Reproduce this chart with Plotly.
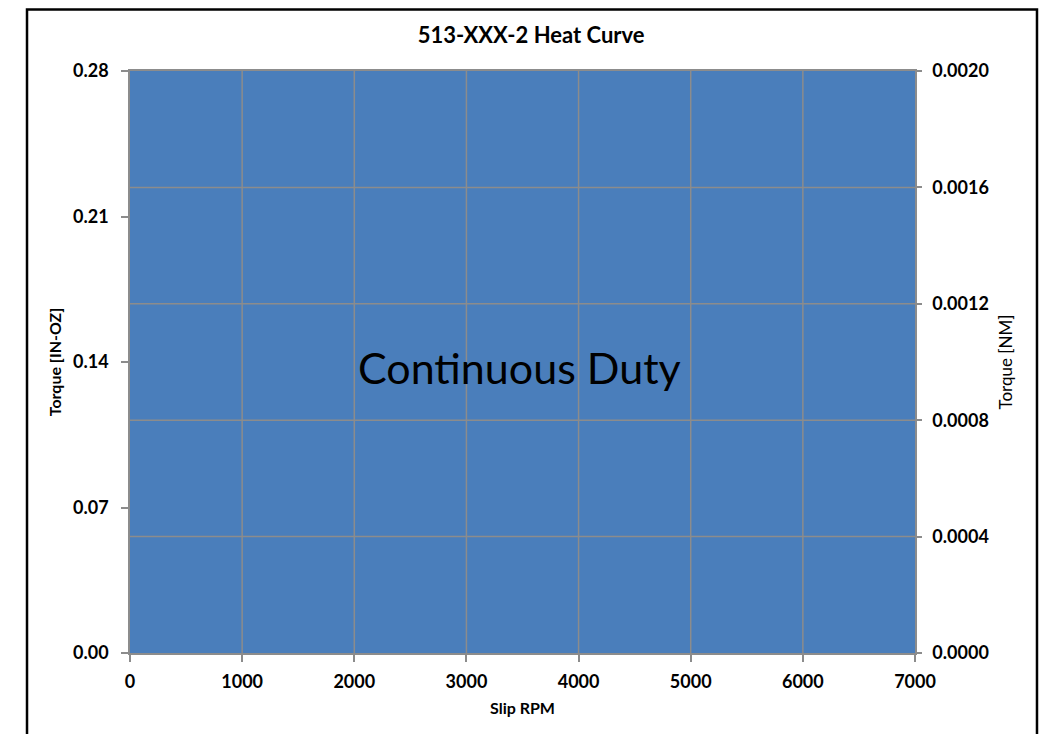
import plotly.graph_objects as go

# Data
slip_rpm = [0, 7000]
torque_in_oz = [0.28, 0.28]
x_ticks = [0, 1000, 2000, 3000, 4000, 5000, 6000, 7000]
y_ticks = [0.00, 0.07, 0.14, 0.21, 0.28]
y2_ticks = [0.0000, 0.0004, 0.0008, 0.0012, 0.0016, 0.0020]
region_label = "Continuous Duty"
region_x = 3473
region_y = 0.1375

FONT = "Lato"
GRID = "#8c8c8c"
FILL = "#4a7ebb"

fig = go.Figure()
fig.add_trace(go.Scatter(
    x=slip_rpm, y=torque_in_oz, mode="lines", fill="tozeroy",
    fillcolor=FILL, line=dict(width=0, color=FILL), showlegend=False,
    hoverinfo="skip"))
# invisible trace to activate secondary axis
fig.add_trace(go.Scatter(x=[slip_rpm[0]], y=[y2_ticks[0]], yaxis="y2",
                         mode="markers", marker=dict(opacity=0),
                         showlegend=False, hoverinfo="skip"))

# gridlines drawn above the fill
for xv in x_ticks[1:-1]:
    fig.add_shape(type="line", xref="x", yref="paper", x0=xv, x1=xv, y0=0, y1=1,
                  line=dict(color=GRID, width=1.5), layer="above")
for yv in y2_ticks[1:-1]:
    fig.add_shape(type="line", xref="paper", yref="y2", x0=0, x1=1, y0=yv, y1=yv,
                  line=dict(color=GRID, width=1.5), layer="above")

# outer chart frame
fig.add_shape(type="rect", xref="paper", yref="paper",
              x0=-0.1312, x1=1.1554, y0=-0.25, y1=1.1057,
              line=dict(color="black", width=2.5), layer="above")

fig.add_annotation(x=region_x, y=region_y, xref="x", yref="y", text=region_label,
                   showarrow=False, font=dict(family=FONT, size=43, color="black"))

tickfont = dict(family=FONT, size=18, color="black", weight="bold")
fig.update_layout(
    width=1040, height=726,
    margin=dict(l=122, r=133, t=63, b=81),
    paper_bgcolor="white", plot_bgcolor="white",
    title=dict(text="<b>513-XXX-2 Heat Curve</b>", x=0.503, xanchor="center",
               y=1 - 27 / 726, yanchor="middle", yref="container",
               font=dict(family=FONT, size=22, color="black")),
    xaxis=dict(range=[0, 7000], tickvals=x_ticks, showgrid=False, zeroline=False,
               showline=True, linecolor=GRID, linewidth=1.5, mirror=True,
               ticks="outside", ticklen=7, tickcolor=GRID, tickwidth=1.5,
               ticklabelstandoff=5, tickfont=tickfont,
               title=dict(text="<b>Slip RPM</b>", standoff=11,
                          font=dict(family=FONT, size=16, color="black"))),
    yaxis=dict(range=[0, 0.28], tickvals=y_ticks, tickformat=".2f", showgrid=False,
               zeroline=False, showline=True, linecolor=GRID, linewidth=1.5,
               ticks="outside", ticklen=7, tickcolor=GRID, tickwidth=1.5,
               ticklabelstandoff=9, tickfont=tickfont,
               title=dict(text="<b>Torque [IN-OZ]</b>", standoff=7,
                          font=dict(family=FONT, size=16, color="black"))),
    yaxis2=dict(range=[0, 0.002], tickvals=y2_ticks, tickformat=".4f", overlaying="y",
                side="right", showgrid=False, zeroline=False, showline=True,
                linecolor=GRID, linewidth=1.5, ticks="outside", ticklen=5,
                tickcolor=GRID, tickwidth=1.5, ticklabelstandoff=7, tickfont=tickfont,
                title=dict(text="Torque [NM]", standoff=12,
                           font=dict(family=FONT, size=17, color="black"))),
)

fig.write_html("out.html")
